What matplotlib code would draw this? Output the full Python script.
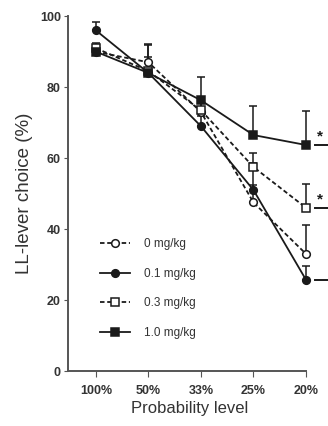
import numpy as np
import matplotlib
matplotlib.use("Agg")
import matplotlib.pyplot as plt

plt.rcParams['font.family'] = ['Liberation Sans', 'DejaVu Sans']

# data
levels = ['100%', '50%', '33%', '25%', '20%']
doses = ['0 mg/kg', '0.1 mg/kg', '0.3 mg/kg', '1.0 mg/kg']
mean_0 = [90.0, 87.0, 73.0, 47.5, 33.0]
mean_01 = [96.0, 84.0, 69.0, 51.0, 25.7]
mean_03 = [91.0, 84.5, 73.5, 57.5, 46.0]
mean_10 = [90.0, 84.0, 76.3, 66.5, 63.7]
err_0 = [1.5, 5.0, 4.0, 5.0, 8.2]
err_01 = [2.3, 3.0, 3.0, 7.5, 4.0]
err_03 = [1.5, 4.0, 3.0, 4.0, 6.6]
err_10 = [1.5, 8.3, 6.7, 8.1, 9.5]
signif = ['*', '*', '']  # marks on the right for 1.0, 0.3, 0.1 mg/kg

c = '#1a1a1a'
fig, ax = plt.subplots(figsize=(3.28, 4.26), dpi=100)
fig.subplots_adjust(left=0.207, right=0.949, bottom=0.129, top=0.962)

x = np.arange(len(levels))
series = [
    (mean_0, err_0, 'o', 'white', '--'),
    (mean_01, err_01, 'o', c, '-'),
    (mean_03, err_03, 's', 'white', '--'),
    (mean_10, err_10, 's', c, '-'),
]
for (m, e, mk, fc, ls), lab in zip(series, doses):
    m = np.array(m)
    yerr = [np.zeros_like(m), np.array(e)]
    ax.errorbar(x, m, yerr=yerr, fmt='none', ecolor=c, elinewidth=1.1,
                capsize=3, capthick=1.1, zorder=2)
    ax.plot(x, m, linestyle=ls, color=c, lw=1.3, marker=mk, ms=5.5,
            mfc=fc, mec=c, mew=1.1, label=lab, zorder=3,
            dashes=(2.5, 1.5) if ls == '--' else (None, None))

# significance marks at the right edge
for yv, s in zip([mean_10[-1], mean_03[-1], mean_01[-1]], signif):
    ax.plot([4.17, 4.5], [yv, yv], color=c, lw=1.4, clip_on=False)
    if s:
        ax.text(4.26, yv + 0.3, s, fontsize=11, fontweight='bold', ha='center',
                va='bottom', color=c, clip_on=False)

ax.set_xlim(-0.533, 4.1)
ax.set_ylim(0, 100)
ax.spines['bottom'].set_bounds(-0.533, 4)
ax.set_xticks(x)
ax.set_xticklabels(levels, fontsize=9, fontweight='bold', color='#333333')
ax.set_yticks([0, 20, 40, 60, 80, 100])
ax.tick_params(axis='y', labelsize=9, length=3, color='#555555', labelcolor='#333333', pad=2)
for t in ax.get_yticklabels():
    t.set_fontweight('bold')
ax.tick_params(axis='x', length=4, color='#555555', pad=6)
ax.set_xlabel('Probability level', fontsize=12, color='#333333', labelpad=3)
ax.set_ylabel('LL-lever choice (%)', fontsize=13.5, color='#333333', labelpad=5)

for sp in ['top', 'right']:
    ax.spines[sp].set_visible(False)
for sp in ['left', 'bottom']:
    ax.spines[sp].set_color('#555555')
    ax.spines[sp].set_linewidth(1.4)

leg = ax.legend(loc='upper left', bbox_to_anchor=(100 / 328, 1 - 238 / 426),
                bbox_transform=fig.transFigure, frameon=False, borderpad=0,
                borderaxespad=0, fontsize=8.5, handlelength=2.55,
                labelspacing=1.5, handletextpad=1.2)
for t in leg.get_texts():
    t.set_color('#333333')

plt.savefig('out.png', dpi=100)
